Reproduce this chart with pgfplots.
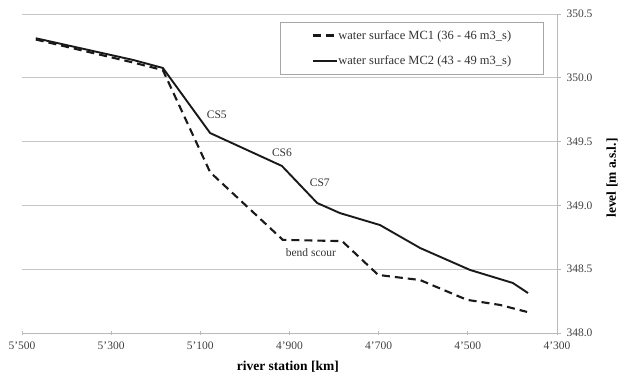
\documentclass[border=0pt]{standalone}
\usepackage{fontspec}
\setmainfont{Liberation Serif}
\usepackage{pgfplots}
\pgfplotsset{compat=1.18}
\begin{document}
\begin{tikzpicture}
\useasboundingbox (-22pt,-41pt) rectangle (599pt,333pt);
\begin{axis}[
  at={(0pt,0pt)}, anchor=south west,
  scale only axis, width=535pt, height=319pt,
  x dir=reverse, xmin=4300, xmax=5500, ymin=348, ymax=350.5,
  axis x line*=bottom, axis y line*=right,
  axis line style={draw=gray!55, line width=0.8pt},
  xtick={5500,5300,5100,4900,4700,4500,4300},
  xticklabels={5'500,5'300,5'100,4'900,4'700,4'500,4'300},
  ytick={348,348.5,349,349.5,350,350.5},
  /pgf/number format/fixed, /pgf/number format/fixed zerofill, /pgf/number format/precision=1,
  /pgf/number format/assume math mode=true,
  ymajorgrids, grid style={draw=gray!45, line width=0.8pt},
  tick style={draw=gray!55, line width=0.8pt},
  xtick align=center, ytick align=outside, major tick length=4pt,
  ticklabel style={font=\fontsize{11.5}{13}\selectfont, text=black!75},
  yticklabel style={xshift=2pt},
  xticklabel style={yshift=-3pt},
  xlabel={\textbf{river station [km]}},
  xlabel style={at={(axis description cs:0.497,-0.107)}, anchor=center, font=\fontsize{13.5}{15}\selectfont},
  ylabel={\textbf{level [m a.s.l.]}},
  ylabel style={at={(axis description cs:1.103,0.486)}, anchor=center, font=\fontsize{13.5}{15}\selectfont},
  legend style={at={(axis description cs:0.482,0.975)}, anchor=north west,
    draw=gray!70, line width=0.8pt, inner xsep=32pt, inner ysep=6pt,
    font=\fontsize{12.5}{14}\selectfont, row sep=11pt,
    nodes={inner xsep=0pt, text=black!80}},
  legend cell align=left,
  legend image code/.code={\draw[#1] (0pt,0pt) -- (24pt,0pt);},
]
\addplot[black!90, line width=2.1pt, dash pattern=on 8pt off 5pt] coordinates {
  (5469,350.30) (5251,350.12) (5184,350.06) (5078,349.26) (4915,348.73)
  (4782,348.72) (4701,348.455) (4607,348.415) (4502,348.26) (4428,348.22) (4367,348.165)
};
\addlegendentry{water surface MC1 (36 - 46 m3\_s)}
\addplot[black!90, line width=1.9pt] coordinates {
  (5469,350.31) (5251,350.14) (5184,350.077) (5078,349.567) (4917,349.309)
  (4838,349.019) (4787,348.94) (4697,348.846) (4607,348.666) (4495,348.494)
  (4399,348.392) (4365,348.313)
};
\addlegendentry{water surface MC2 (43 - 49 m3\_s)}
\node[font=\fontsize{11.5}{13}\selectfont, text=black!80] at (axis cs:5063,349.71) {CS5};
\node[font=\fontsize{11.5}{13}\selectfont, text=black!80] at (axis cs:4917,349.41) {CS6};
\node[font=\fontsize{11.5}{13}\selectfont, text=black!80] at (axis cs:4832,349.18) {CS7};
\node[font=\fontsize{11.5}{13}\selectfont, text=black!80] at (axis cs:4852,348.63) {bend scour};
\end{axis}
\end{tikzpicture}
\end{document}
